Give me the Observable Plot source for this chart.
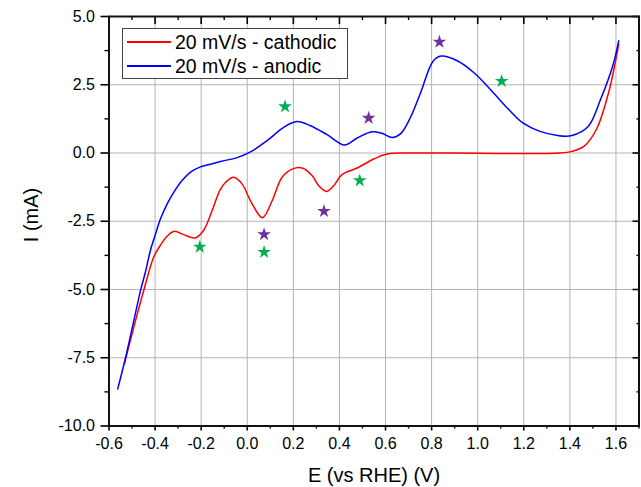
<!DOCTYPE html>
<html>
<head>
<meta charset="utf-8">
<script src="https://cdn.jsdelivr.net/npm/d3@7"></script>
<script src="https://cdn.jsdelivr.net/npm/@observablehq/plot@0.6"></script>
<style>
  html, body { margin: 0; padding: 0; background: #fff; }
  #wrap { position: relative; width: 641px; height: 487px; font-family: "Liberation Sans", Arial, sans-serif; }
  #legend { position: absolute; left: 122px; top: 28px; width: 226px; height: 51px; border: 1px solid #444; background: #fff; box-sizing: border-box; }
  .row { position: absolute; left: 0; height: 24px; width: 100%; }
  .swatch { position: absolute; left: 4px; width: 44px; top: 11px; height: 2px; }
  .lab { position: absolute; left: 52px; top: 0; font-size: 19.5px; line-height: 24px; color: #000; white-space: nowrap; }
  #ytitle { position: absolute; left: 31px; top: 215px; transform: translate(-50%, -50%) rotate(-90deg); font-size: 20px; line-height: 20px; white-space: nowrap; color: #000; }
</style>
</head>
<body>
<div id="wrap"></div>
<script>
// ---- data ----
const anodicE = [-0.562,-0.528,-0.492,-0.463,-0.442,-0.42,-0.398,-0.377,-0.348,-0.319,-0.282,-0.246,-0.203,-0.159,-0.116,-0.044,0.014,0.086,0.158,0.216,0.274,0.347,0.422,0.477,0.542,0.585,0.629,0.665,0.708,0.752,0.807,0.842,0.913,0.984,1.055,1.135,1.196,1.267,1.347,1.409,1.48,1.533,1.586,1.612];
const anodicI = [-8.64,-7.49,-6.13,-5.03,-4.36,-3.56,-2.97,-2.42,-1.87,-1.44,-1.0,-0.70,-0.51,-0.41,-0.31,-0.17,0.04,0.45,0.94,1.15,1.0,0.67,0.29,0.55,0.78,0.72,0.57,0.70,1.30,2.2,3.37,3.55,3.37,2.94,2.33,1.59,1.1,0.8,0.64,0.64,0.98,1.96,3.19,4.11];
const cathodicE = [1.612,1.568,1.515,1.462,1.409,1.356,1.0,0.838,0.694,0.607,0.549,0.477,0.411,0.375,0.344,0.31,0.282,0.238,0.195,0.151,0.108,0.066,0.014,-0.022,-0.059,-0.095,-0.119,-0.152,-0.189,-0.225,-0.276,-0.316,-0.348,-0.377,-0.406,-0.449,-0.492,-0.533];
const cathodicI = [3.98,2.21,0.86,0.25,0.06,0.0,-0.01,0.0,0.0,-0.04,-0.22,-0.55,-0.79,-1.20,-1.41,-1.20,-0.83,-0.55,-0.59,-0.89,-1.75,-2.37,-1.75,-1.14,-0.89,-1.08,-1.37,-2.10,-2.83,-3.11,-2.99,-2.87,-3.05,-3.38,-3.81,-5.03,-6.37,-7.72];
const greenStarE = [0.164,1.104,-0.206,0.073,0.488];
const greenStarI = [1.70,2.63,-3.44,-3.63,-1.01];
const purpleStarE = [0.834,0.527,0.073,0.333];
const purpleStarI = [4.07,1.28,-2.98,-2.13];
const xMajorTicks = [-0.6,-0.4,-0.2,0.0,0.2,0.4,0.6,0.8,1.0,1.2,1.4,1.6];
const xMinorTicks = [-0.5,-0.3,-0.1,0.1,0.3,0.5,0.7,0.9,1.1,1.3,1.5,1.7];
const yMajorTicks = [-10,-7.5,-5,-2.5,0,2.5,5];
const yMinorTicks = [-8.75,-6.25,-3.75,-1.25,1.25,3.75];
const xGrid = [-0.4,-0.2,0.0,0.2,0.4,0.6,0.8,1.0,1.2,1.4,1.6];
const yGrid = [-7.5,-5,-2.5,0,2.5];
const seriesNames = ["20 mV/s - cathodic", "20 mV/s - anodic"];
const seriesColors = ["#ff0000", "#0000ff"];
const xTitle = "E (vs RHE) (V)";
const yTitle = "I (mA)";

const anodic = anodicE.map((e, i) => ({E: e, I: anodicI[i]}));
const cathodic = cathodicE.map((e, i) => ({E: e, I: cathodicI[i]}));
const green = greenStarE.map((e, i) => ({E: e, I: greenStarI[i]}));
const purple = purpleStarE.map((e, i) => ({E: e, I: purpleStarI[i]}));
const fmt = d => d.toFixed(1);
const blank = () => "";

const chart = Plot.plot({
  width: 641,
  height: 487,
  marginLeft: 108.5,
  marginRight: 2.5,
  marginTop: 16,
  marginBottom: 61.5,
  style: {fontFamily: "Liberation Sans, Arial, sans-serif", background: "#fff", overflow: "visible"},
  x: {domain: [-0.6, 1.7]},
  y: {domain: [-10, 5]},
  marks: [
    Plot.ruleX(xGrid, {stroke: "#b4b4b4", strokeWidth: 1}),
    Plot.ruleY(yGrid, {stroke: "#b4b4b4", strokeWidth: 1}),
    Plot.line(cathodic, {x: "E", y: "I", curve: "catmull-rom", stroke: seriesColors[0], strokeWidth: 1.5}),
    Plot.line(anodic, {x: "E", y: "I", curve: "catmull-rom", stroke: seriesColors[1], strokeWidth: 1.5}),
    Plot.dot(green, {x: "E", y: "I", symbol: "star", r: 4.3, fill: "#00b050", stroke: "none"}),
    Plot.dot(purple, {x: "E", y: "I", symbol: "star", r: 4.3, fill: "#7030a0", stroke: "none"}),
    // bottom axis
    Plot.axisX({ticks: xMajorTicks, tickSize: 5, tickPadding: 7, tickFormat: fmt, fontSize: 16, label: null, strokeWidth: 1.6, fill: "#000"}),
    Plot.axisX({ticks: xMinorTicks, tickSize: 3, tickFormat: blank, label: null, strokeWidth: 1.4}),
    // top axis (inward)
    Plot.axisX({anchor: "top", ticks: xMajorTicks, tickSize: 7, dy: 7, tickFormat: blank, label: null, strokeWidth: 1.6}),
    Plot.axisX({anchor: "top", ticks: xMinorTicks, tickSize: 3, dy: 3, tickFormat: blank, label: null, strokeWidth: 1.4}),
    // left axis
    Plot.axisY({ticks: yMajorTicks, tickSize: 8, tickPadding: 6, tickFormat: fmt, fontSize: 16, label: null, strokeWidth: 1.6, fill: "#000"}),
    Plot.axisY({ticks: yMinorTicks, tickSize: 4, tickFormat: blank, label: null, strokeWidth: 1.4}),
    // right axis (inward)
    Plot.axisY({anchor: "right", ticks: yMajorTicks, tickSize: 7, dx: -7, tickFormat: blank, label: null, strokeWidth: 1.6}),
    Plot.axisY({anchor: "right", ticks: yMinorTicks, tickSize: 3, dx: -3, tickFormat: blank, label: null, strokeWidth: 1.4}),
    Plot.frame({stroke: "#111", strokeWidth: 2}),
    Plot.text([xTitle], {frameAnchor: "bottom", dy: 42, lineAnchor: "top", fontSize: 20, fill: "#000", text: d => d})
  ]
});

const wrap = document.getElementById("wrap");
wrap.appendChild(chart);

const yt = document.createElement("div");
yt.id = "ytitle";
yt.textContent = yTitle;
wrap.appendChild(yt);

const legend = document.createElement("div");
legend.id = "legend";
seriesNames.forEach((name, i) => {
  const row = document.createElement("div");
  row.className = "row";
  row.style.top = (1 + i * 23.5) + "px";
  const sw = document.createElement("div");
  sw.className = "swatch";
  sw.style.background = seriesColors[i];
  const lab = document.createElement("div");
  lab.className = "lab";
  lab.textContent = name;
  row.appendChild(sw);
  row.appendChild(lab);
  legend.appendChild(row);
});
wrap.appendChild(legend);
</script>
</body>
</html>
